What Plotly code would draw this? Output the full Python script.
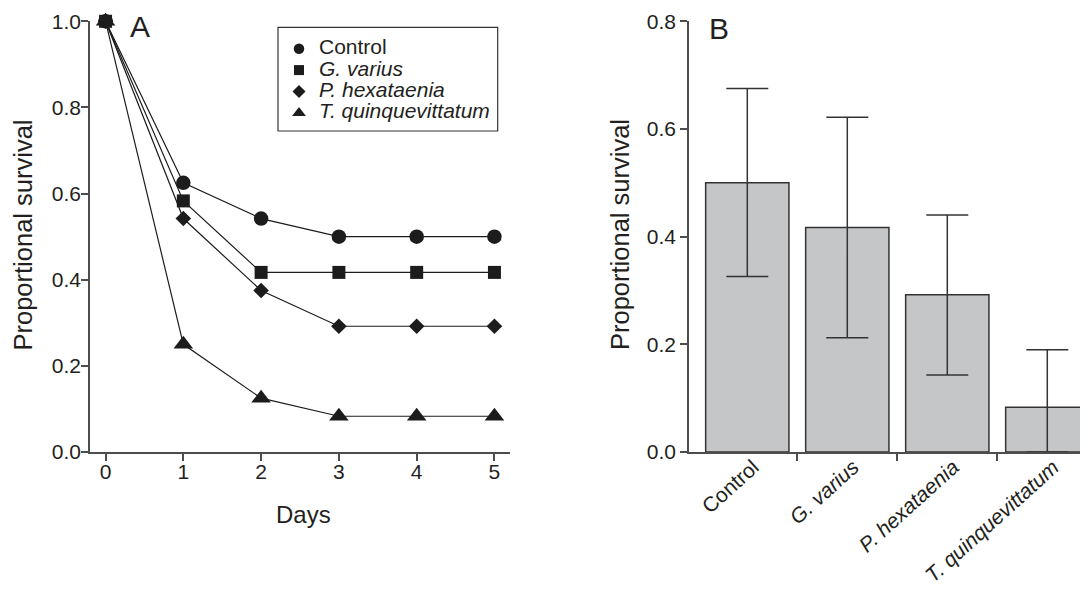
import plotly.graph_objects as go

# ---- Data ----
days = [0, 1, 2, 3, 4, 5]
series_names = ["Control", "G. varius", "P. hexataenia", "T. quinquevittatum"]
control = [1.0, 0.625, 0.542, 0.5, 0.5, 0.5]
g_varius = [1.0, 0.583, 0.417, 0.417, 0.417, 0.417]
p_hexataenia = [1.0, 0.542, 0.375, 0.292, 0.292, 0.292]
t_quinque = [1.0, 0.25, 0.125, 0.083, 0.083, 0.083]

bar_categories = ["Control", "G. varius", "P. hexataenia", "T. quinquevittatum"]
bar_labels = ["Control", "<i>G. varius</i>", "<i>P. hexataenia</i>", "<i>T. quinquevittatum</i>"]
bar_values = [0.5, 0.417, 0.292, 0.083]
bar_upper = [0.675, 0.622, 0.44, 0.19]
bar_lower = [0.326, 0.212, 0.143, 0.0]

yticks_a = [0.0, 0.2, 0.4, 0.6, 0.8, 1.0]
yticks_b = [0.0, 0.2, 0.4, 0.6, 0.8]

# ---- Styling ----
OFF = 8  # page body margin offset
W, H = 1088 - OFF, 592 - OFF
FONT = "Liberation Sans, Arial, Helvetica, sans-serif"
TXT = "#231f20"
AX = "#4d4d4d"
INK = "#1c1c1c"
TICKSIZE = 21

def px_x(p):
    return (p - OFF) / W

def px_y(p):
    return 1 - (p - OFF) / H

ydom = [px_y(452), px_y(21.3)]

fig = go.Figure()

# Panel A lines (draw order so squares end up on top at day 0)
specs = {
    "Control": (control, "circle", 14.5),
    "G. varius": (g_varius, "square", 13),
    "P. hexataenia": (p_hexataenia, "diamond", 12),
    "T. quinquevittatum": (t_quinque, "triangle-up", 17),
}
for name in ["T. quinquevittatum", "P. hexataenia", "Control", "G. varius"]:
    vals, sym, size = specs[name]
    fig.add_trace(go.Scatter(
        x=days, y=vals, mode="lines+markers", name=name,
        line=dict(color=INK, width=1.2),
        marker=dict(symbol=sym, size=size, color=INK, line=dict(width=0)),
        showlegend=False, cliponaxis=False, xaxis="x", yaxis="y",
    ))

# Legend entries (marker only)
leg_sizes = {"circle": 10.5, "square": 10, "diamond": 10, "triangle-up": 12}
for name in series_names:
    vals, sym, size = specs[name]
    label = name if name == "Control" else "<i>%s</i>" % name
    fig.add_trace(go.Scatter(
        x=[None], y=[None], mode="markers",
        name='<span style="font-size:21px">%s</span>' % label,
        marker=dict(symbol=sym, size=leg_sizes[sym], color=INK, line=dict(width=0)),
        showlegend=True, xaxis="x", yaxis="y",
    ))

# Panel B bars
xpos = list(range(len(bar_categories)))
fig.add_trace(go.Bar(
    x=xpos, y=bar_values, width=0.833,
    marker=dict(color="#c5c6c8", line=dict(color="#333333", width=1.5)),
    error_y=dict(type="data", symmetric=False,
                 array=[u - v for u, v in zip(bar_upper, bar_values)],
                 arrayminus=[v - l for v, l in zip(bar_values, bar_lower)],
                 color="#333333", thickness=1.5, width=21),
    showlegend=False, xaxis="x2", yaxis="y2",
))

axis_common = dict(
    showline=True, linecolor=AX, linewidth=1.5,
    ticks="outside", ticklen=7, tickwidth=1.5, tickcolor=AX,
    tickfont=dict(size=TICKSIZE, color=TXT, family=FONT),
    showgrid=False, zeroline=False, automargin=False,
)

fig.update_layout(
    template="none",
    width=W, height=H,
    margin=dict(l=0, r=0, t=0, b=0, pad=0, autoexpand=False),
    paper_bgcolor="white", plot_bgcolor="white",
    font=dict(family=FONT, color=TXT),
    xaxis=dict(domain=[px_x(90), px_x(510)], range=[-0.2, 5.2],
               tickvals=days, anchor="y", ticklabelstandoff=-7, **axis_common),
    yaxis=dict(domain=ydom, range=[0, 1], tickvals=yticks_a,
               tickformat=".1f", anchor="x", ticklabelstandoff=-4, **axis_common),
    xaxis2=dict(domain=[px_x(689), 1.0], range=[-0.583, 3.407],
                tickvals=xpos, ticktext=bar_labels, tickangle=-42,
                anchor="y2", automargin=False,
                ticklabelstandoff=-7, ticklabelshift=6,
                showline=True, linecolor=AX, linewidth=1.5,
                ticks="", tickfont=dict(size=TICKSIZE, color=TXT, family=FONT),
                minor=dict(tickvals=[0.5, 1.5, 2.5], ticks="outside",
                           ticklen=7, tickwidth=1.5, tickcolor=AX),
                showgrid=False, zeroline=False),
    yaxis2=dict(domain=ydom, range=[0, 0.8], tickvals=yticks_b,
                tickformat=".1f", anchor="x2", **axis_common),
    legend=dict(x=px_x(279), y=px_y(33), xanchor="left", yanchor="top",
                bgcolor="rgba(0,0,0,0)", borderwidth=0,
                font=dict(size=14.15, color=TXT, family=FONT)),
    shapes=[dict(type="rect", xref="paper", yref="paper",
                 x0=px_x(278), x1=px_x(497.7), y0=px_y(131), y1=px_y(27.3),
                 line=dict(color="#333333", width=1.2), fillcolor="white",
                 layer="above")],
    bargap=0.1,
)

annots = [
    dict(text="A", x=px_x(128), y=px_y(26), xanchor="left", yanchor="middle",
         font=dict(size=30)),
    dict(text="B", x=px_x(707), y=px_y(29), xanchor="left", yanchor="middle",
         font=dict(size=30)),
    dict(text="Proportional survival", x=px_x(22.5), y=px_y(235), textangle=-90,
         xanchor="center", yanchor="middle", font=dict(size=25.5)),
    dict(text="Proportional survival", x=px_x(620), y=px_y(235), textangle=-90,
         xanchor="center", yanchor="middle", font=dict(size=25.5)),
    dict(text="Days", x=px_x(303), y=px_y(514), xanchor="center", yanchor="middle",
         font=dict(size=24)),
]
for a in annots:
    a.update(xref="paper", yref="paper", showarrow=False)
    a["font"].update(color=TXT, family=FONT)
fig.update_layout(annotations=annots)

fig.write_html("out.html")
